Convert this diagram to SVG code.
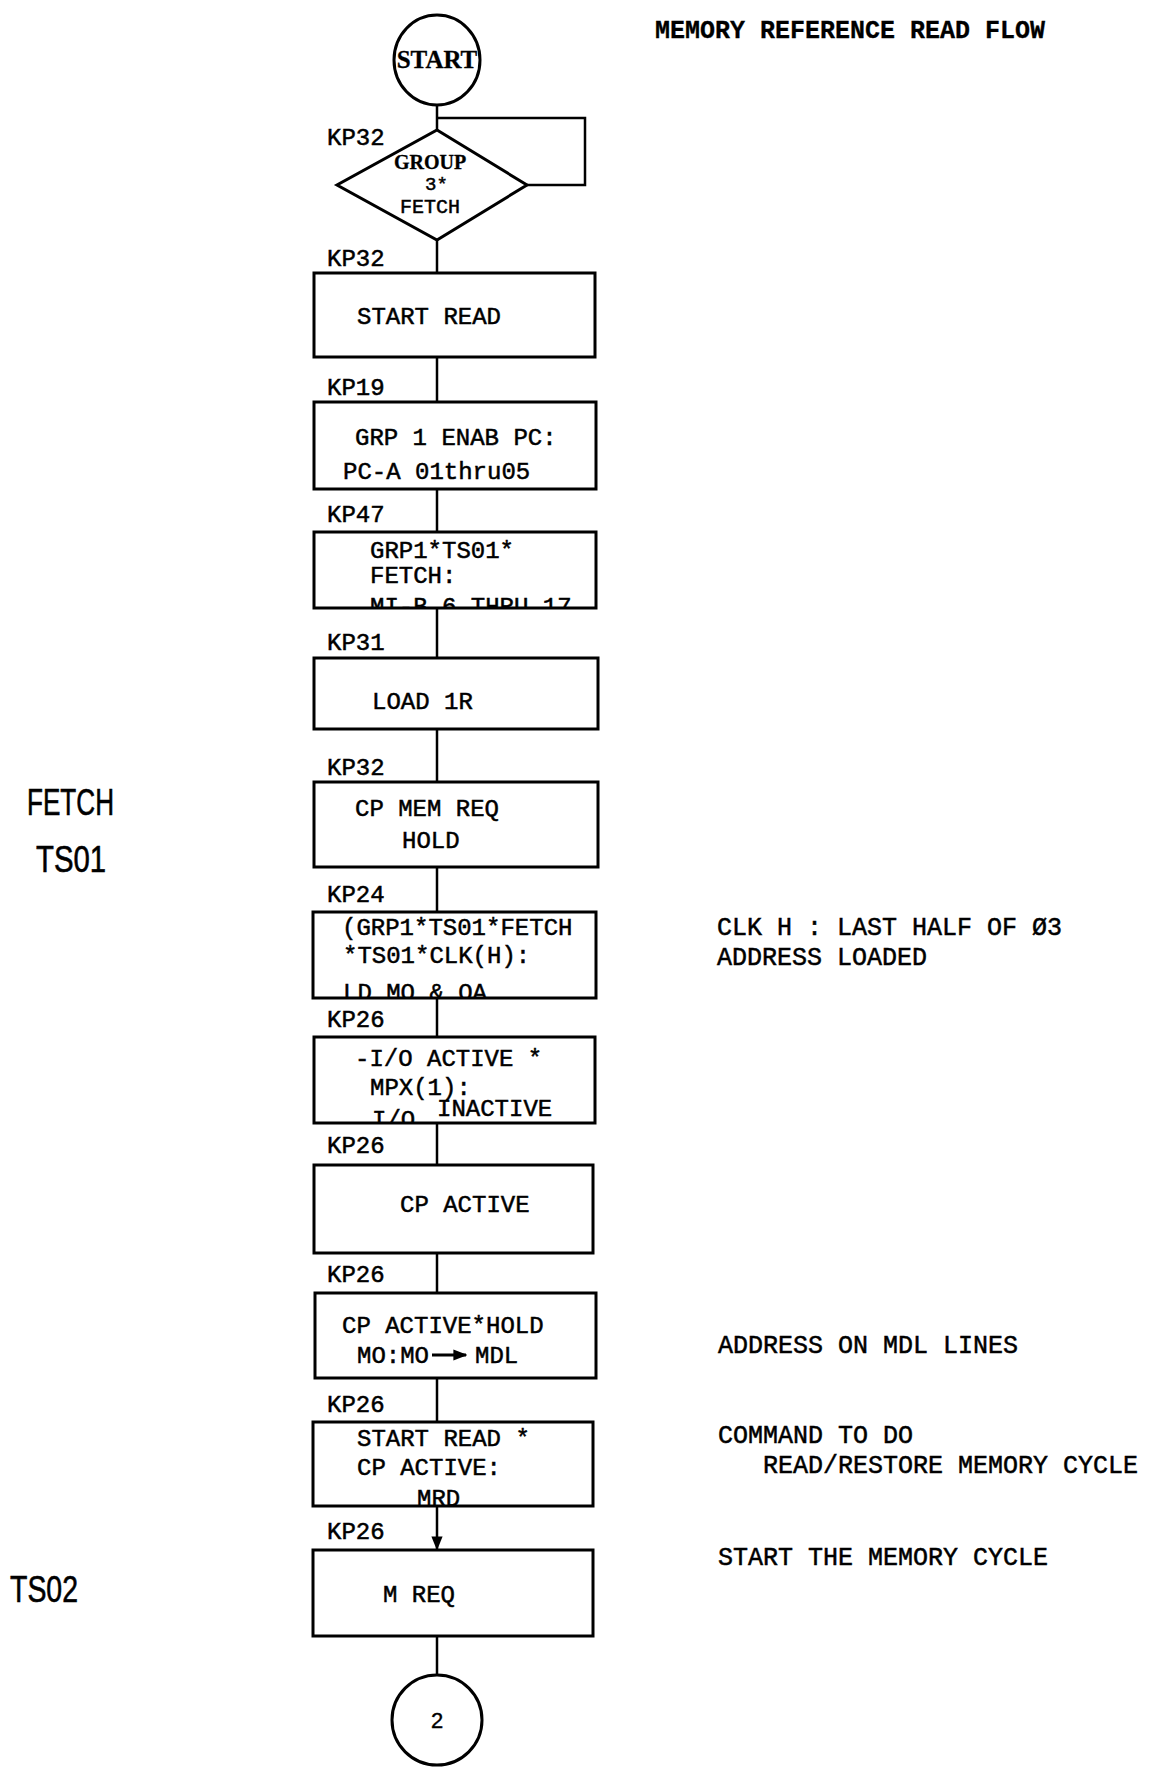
<svg xmlns="http://www.w3.org/2000/svg" width="1161" height="1767" viewBox="0 0 1161 1767">
<style>
.t{font-family:"Liberation Mono","DejaVu Sans Mono",monospace;font-size:24px;fill:#000;stroke:#000;stroke-width:0.5}
.n{font-size:25px}
.b{font-weight:bold;stroke-width:0.3}
.box{fill:none;stroke:#000;stroke-width:3}
.c{fill:none;stroke:#000;stroke-width:2.5}
.s{font-family:"Liberation Sans","DejaVu Sans",sans-serif;font-size:37px;fill:#000;stroke:#000;stroke-width:0.6}
</style>
<defs>
<marker id="ah2" viewBox="0 0 10 10" refX="9" refY="5" markerWidth="14" markerHeight="14" orient="auto" markerUnits="userSpaceOnUse">
<path d="M0,1 L10,5 L0,9 Z" fill="#000"/>
</marker>
<clipPath id="k47"><rect x="300" y="520" width="310" height="88"/></clipPath>
<clipPath id="k24"><rect x="300" y="905" width="310" height="93"/></clipPath>
<clipPath id="k26a"><rect x="300" y="1030" width="310" height="93"/></clipPath>
<clipPath id="k26d"><rect x="300" y="1415" width="310" height="91"/></clipPath>
</defs>

<text class="t b" x="655" y="38" style="font-size:25px">MEMORY REFERENCE READ FLOW</text>

<g id="connectors">
<line class="c" x1="437" y1="104" x2="437" y2="130"/>
<polyline class="c" points="437,118 585,118 585,185 527,185"/>
<line class="c" x1="437" y1="240" x2="437" y2="273"/>
<line class="c" x1="437" y1="357" x2="437" y2="402"/>
<line class="c" x1="437" y1="489" x2="437" y2="532"/>
<line class="c" x1="437" y1="608" x2="437" y2="658"/>
<line class="c" x1="437" y1="729" x2="437" y2="782"/>
<line class="c" x1="437" y1="867" x2="437" y2="912"/>
<line class="c" x1="437" y1="998" x2="437" y2="1037"/>
<line class="c" x1="437" y1="1123" x2="437" y2="1165"/>
<line class="c" x1="437" y1="1253" x2="437" y2="1293"/>
<line class="c" x1="437" y1="1378" x2="437" y2="1422"/>
<line class="c" x1="437" y1="1506" x2="437" y2="1549" marker-end="url(#ah2)"/>
<line class="c" x1="437" y1="1636" x2="437" y2="1675"/>
</g>

<g id="start">
<ellipse class="box" cx="437" cy="60" rx="43" ry="45"/>
<text class="t b" x="437" y="68" text-anchor="middle" style="font-family:'Liberation Serif',serif;font-size:25px">START</text>
</g>

<g id="group3fetch">
<text class="t" x="327" y="145">KP32</text>
<polygon class="box" points="437,130 527,185 437,240 337,185"/>
<text class="t b" x="430" y="169" text-anchor="middle" style="font-family:'Liberation Serif',serif;font-size:20px">GROUP</text>
<text class="t" x="425" y="190" style="font-size:19px">3*</text>
<text class="t" x="430" y="213" text-anchor="middle" style="font-size:20px">FETCH</text>
</g>

<g id="startread">
<text class="t" x="327" y="266">KP32</text>
<rect class="box" x="314" y="273" width="281" height="84"/>
<text class="t" x="357" y="324">START READ</text>
</g>

<g id="grp1enab">
<text class="t" x="327" y="395">KP19</text>
<rect class="box" x="314" y="402" width="282" height="87"/>
<text class="t" x="355" y="445">GRP 1 ENAB PC:</text>
<text class="t" x="343" y="479">PC-A 01thru05</text>
</g>

<g id="grp1ts01fetch">
<text class="t" x="327" y="522">KP47</text>
<text class="t" x="370" y="558">GRP1*TS01*</text>
<text class="t" x="370" y="583">FETCH:</text>
<text class="t" x="370" y="614" clip-path="url(#k47)">MI-B 6 THRU 17</text>
<rect class="box" x="314" y="532" width="282" height="76"/>
</g>

<g id="load1r">
<text class="t" x="327" y="650">KP31</text>
<rect class="box" x="314" y="658" width="284" height="71"/>
<text class="t" x="372" y="709">LOAD 1R</text>
</g>

<g id="cpmemreq">
<text class="t" x="327" y="775">KP32</text>
<rect class="box" x="314" y="782" width="284" height="85"/>
<text class="t" x="355" y="816">CP MEM REQ</text>
<text class="t" x="402" y="848">HOLD</text>
</g>

<g id="ldmo">
<text class="t" x="327" y="902">KP24</text>
<text class="t" x="342" y="935">(GRP1*TS01*FETCH</text>
<text class="t" x="343" y="963">*TS01*CLK(H):</text>
<text class="t" x="343" y="1000" clip-path="url(#k24)">LD MO &amp; OA</text>
<rect class="box" x="313" y="912" width="283" height="86"/>
</g>

<g id="ioinactive">
<text class="t" x="327" y="1027">KP26</text>
<text class="t" x="355" y="1066">-I/O ACTIVE *</text>
<text class="t" x="370" y="1095">MPX(1):</text>
<text class="t" x="372" y="1127" clip-path="url(#k26a)">I/O</text>
<text class="t" x="437" y="1116">INACTIVE</text>
<rect class="box" x="314" y="1037" width="281" height="86"/>
</g>

<g id="cpactive">
<text class="t" x="327" y="1153">KP26</text>
<rect class="box" x="314" y="1165" width="279" height="88"/>
<text class="t" x="400" y="1212">CP ACTIVE</text>
</g>

<g id="cpactivehold">
<text class="t" x="327" y="1282">KP26</text>
<rect class="box" x="315" y="1293" width="281" height="85"/>
<text class="t" x="342" y="1333">CP ACTIVE*HOLD</text>
<text class="t" x="357" y="1363">MO:MO</text>
<line x1="432" y1="1355" x2="466" y2="1355" stroke="#000" stroke-width="3" marker-end="url(#ah2)"/>
<text class="t" x="475" y="1363">MDL</text>
</g>

<g id="mrd">
<text class="t" x="327" y="1412">KP26</text>
<text class="t" x="357" y="1446">START READ *</text>
<text class="t" x="357" y="1475">CP ACTIVE:</text>
<text class="t" x="417" y="1506" clip-path="url(#k26d)">MRD</text>
<rect class="box" x="313" y="1422" width="280" height="84"/>
</g>

<g id="mreq">
<text class="t" x="327" y="1539">KP26</text>
<rect class="box" x="313" y="1550" width="280" height="86"/>
<text class="t" x="383" y="1602">M REQ</text>
</g>

<g id="conn2">
<circle class="box" cx="437" cy="1720" r="45"/>
<text x="437" y="1728" text-anchor="middle" style="font-family:'Liberation Sans',sans-serif;font-size:22px;fill:#000;stroke:#000;stroke-width:0.4">2</text>
</g>

<g id="notes">
<text class="t n" x="717" y="935">CLK H : LAST HALF OF Ø3</text>
<text class="t n" x="717" y="965">ADDRESS LOADED</text>
<text class="t n" x="718" y="1353">ADDRESS ON MDL LINES</text>
<text class="t n" x="718" y="1443">COMMAND TO DO</text>
<text class="t n" x="763" y="1473">READ/RESTORE MEMORY CYCLE</text>
<text class="t n" x="718" y="1565">START THE MEMORY CYCLE</text>
</g>

<g id="phases">
<text class="s" x="27" y="815" textLength="87" lengthAdjust="spacingAndGlyphs">FETCH</text>
<text class="s" x="36" y="872" textLength="70" lengthAdjust="spacingAndGlyphs">TS01</text>
<text class="s" x="10" y="1602" textLength="68" lengthAdjust="spacingAndGlyphs">TS02</text>
</g>
</svg>
